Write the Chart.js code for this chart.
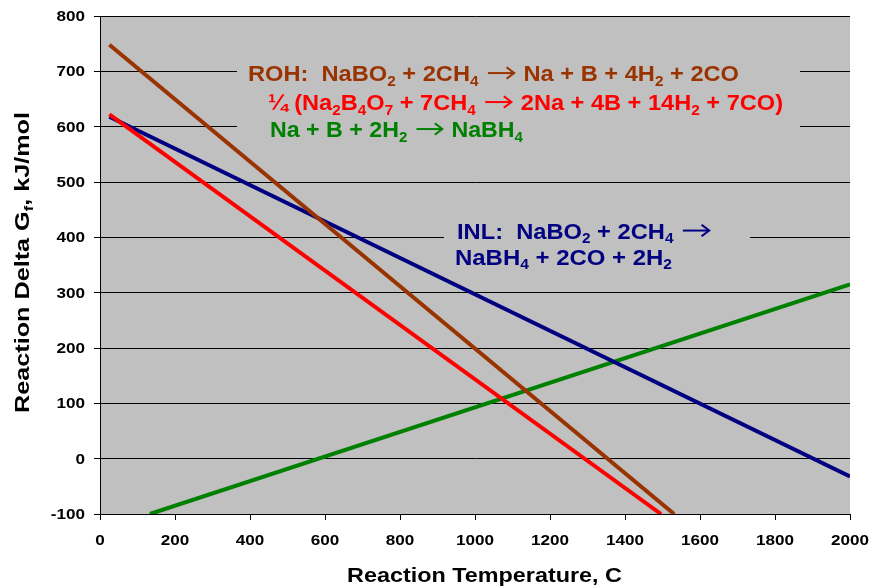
<!DOCTYPE html>
<html><head><meta charset="utf-8">
<script src="https://cdn.jsdelivr.net/npm/chart.js@4/dist/chart.umd.min.js"></script>
<style>html,body{margin:0;padding:0;background:#fff}</style>
</head><body>
<canvas id="c" width="872" height="588"></canvas>
<script>
// ---- data ----
const rohTemps = [25, 1531];
const rohValues = [748, -100];
const boraxTemps = [25, 1496];
const boraxValues = [622, -100];
const inlTemps = [25, 2000];
const inlValues = [618, -32];
const nabh4Temps = [133, 2000];
const nabh4Values = [-100, 315];
const xTicks = [0, 200, 400, 600, 800, 1000, 1200, 1400, 1600, 1800, 2000];
const yTicks = [-100, 0, 100, 200, 300, 400, 500, 600, 700, 800];

const pts = (xs, ys) => xs.map((x, i) => ({x, y: ys[i]}));
const FONT = '"Liberation Sans", Arial, sans-serif';
const S = 'sub', A = 'arrow';

function segFont(kind, size) { return 'bold ' + (kind === S ? size * 0.65 : size) + 'px ' + FONT; }
function segWidth(ctx, seg, size) {
  if (seg[1] === A) return size * 1.35;
  ctx.font = segFont(seg[1], size);
  return ctx.measureText(seg[0]).width;
}
// draws rich text between x0 and x1 (horizontal stretch to fit), vertically centred at yc
function drawRich(ctx, parts, x0, x1, yc, size, color) {
  let w = 0;
  for (const p of parts) w += segWidth(ctx, p, size);
  const sx = (x1 - x0) / w;
  ctx.save();
  ctx.translate(x0, yc);
  ctx.scale(sx, 1);
  ctx.fillStyle = color; ctx.strokeStyle = color;
  ctx.textAlign = 'left'; ctx.textBaseline = 'alphabetic';
  const base = size * 0.36;
  let cx = 0;
  for (const p of parts) {
    const pw = segWidth(ctx, p, size);
    if (p[1] === A) {
      const y = -size * 0.02, l = cx + size * 0.12, r = cx + pw - size * 0.12;
      ctx.lineWidth = size * 0.09;
      ctx.beginPath(); ctx.moveTo(l, y); ctx.lineTo(r, y); ctx.stroke();
      ctx.beginPath();
      ctx.moveTo(r - size * 0.32, y - size * 0.26);
      ctx.lineTo(r, y);
      ctx.lineTo(r - size * 0.32, y + size * 0.26);
      ctx.stroke();
    } else {
      ctx.font = segFont(p[1], size);
      ctx.fillText(p[0], cx, p[1] === S ? base + size * 0.2 : base);
    }
    cx += pw;
  }
  ctx.restore();
}

const notes = [
  {x0: 248, x1: 739, y: 73.5, color: '#993300', parts: [['ROH:  NaBO'], ['2', S], [' + 2CH'], ['4', S], [' '], ['', A], [' Na + B + 4H'], ['2', S], [' + 2CO']]},
  {x0: 268, x1: 783, y: 102.5, color: '#FF0000', parts: [['\u00BC (Na'], ['2', S], ['B'], ['4', S], ['O'], ['7', S], [' + 7CH'], ['4', S], [' '], ['', A], [' 2Na + 4B + 14H'], ['2', S], [' + 7CO)']]},
  {x0: 270, x1: 523, y: 129.5, color: '#008000', parts: [['Na + B + 2H'], ['2', S], [' '], ['', A], [' NaBH'], ['4', S]]},
  {x0: 457, x1: 712, y: 231, color: '#000080', parts: [['INL:  NaBO'], ['2', S], [' + 2CH'], ['4', S], [' '], ['', A]]},
  {x0: 455, x1: 672, y: 257, color: '#000080', parts: [['NaBH'], ['4', S], [' + 2CO + 2H'], ['2', S]]}
];
const boxes = [[237, 58, 563, 92], [444, 222, 306, 53]];

function drawLabel(ctx, text, x, yc, align, size, sx) {
  ctx.save();
  ctx.font = 'bold ' + size + 'px ' + FONT;
  const w = ctx.measureText(text).width * sx;
  const left = align === 'right' ? x - w : x - w / 2;
  ctx.translate(left, yc);
  ctx.scale(sx, 1);
  ctx.fillStyle = '#000';
  ctx.textAlign = 'left'; ctx.textBaseline = 'middle';
  ctx.fillText(text, 0, 1);
  ctx.restore();
}

const deco = {
  id: 'deco',
  beforeDraw(chart) {
    const {ctx, chartArea: a} = chart;
    ctx.save();
    ctx.fillStyle = '#C0C0C0';
    ctx.fillRect(a.left, a.top, a.right - a.left, a.bottom - a.top);
    ctx.restore();
  },
  beforeDatasetsDraw(chart) {
    const ctx = chart.ctx;
    ctx.save();
    ctx.fillStyle = '#C0C0C0';
    for (const b of boxes) ctx.fillRect(b[0], b[1], b[2], b[3]);
    ctx.restore();
  },
  afterDatasetsDraw(chart) {
    const ctx = chart.ctx;
    const xs = chart.scales.x, ys = chart.scales.y;
    for (const v of xTicks) drawLabel(ctx, String(v), xs.getPixelForValue(v), 540, 'center', 15, 1.14);
    for (const v of yTicks) drawLabel(ctx, String(v), 85, ys.getPixelForValue(v), 'right', 15, 1.14);
    for (const n of notes) drawRich(ctx, n.parts, n.x0, n.x1, n.y, 22, n.color);
    drawRich(ctx, [['Reaction Temperature, C']], 347, 622, 575, 19.5, '#000');
    ctx.save();
    ctx.translate(21, 0);
    ctx.rotate(-Math.PI / 2);
    // rotated: x axis of text runs upward; page y 413 -> 112
    drawRich(ctx, [['Reaction Delta G'], ['f', S], [', kJ/mol']], -413, -112, 0, 21, '#000');
    ctx.restore();
  }
};

new Chart(document.getElementById('c'), {
  type: 'scatter',
  data: {
    datasets: [
      {label: 'ROH', data: pts(rohTemps, rohValues), borderColor: '#993300'},
      {label: 'Borax', data: pts(boraxTemps, boraxValues), borderColor: '#FF0000'},
      {label: 'INL', data: pts(inlTemps, inlValues), borderColor: '#000080'},
      {label: 'NaBH4', data: pts(nabh4Temps, nabh4Values), borderColor: '#008000'}
    ].map(d => Object.assign(d, {showLine: true, borderWidth: 4, pointRadius: 0, fill: false, tension: 0}))
  },
  options: {
    responsive: false,
    animation: false,
    devicePixelRatio: 1,
    layout: {padding: {top: 16, right: 22, left: 0, bottom: 0}},
    plugins: {legend: {display: false}, tooltip: {enabled: false}},
    scales: {
      x: {
        type: 'linear', min: 0, max: 2000,
        afterFit: s => { s.height = 74; },
        afterBuildTicks: s => { s.ticks = xTicks.map(v => ({value: v})); },
        grid: {drawOnChartArea: false, drawTicks: true, tickLength: 6, color: '#000', lineWidth: 1},
        border: {display: true, color: '#000', width: 1},
        ticks: {display: false}
      },
      y: {
        type: 'linear', min: -100, max: 800,
        afterFit: s => { s.width = 100; },
        afterBuildTicks: s => { s.ticks = yTicks.map(v => ({value: v})); },
        grid: {drawOnChartArea: true, drawTicks: true, tickLength: 6, color: '#000', lineWidth: 1},
        border: {display: true, color: '#000', width: 1},
        ticks: {display: false}
      }
    }
  },
  plugins: [deco]
});
</script>
</body></html>
